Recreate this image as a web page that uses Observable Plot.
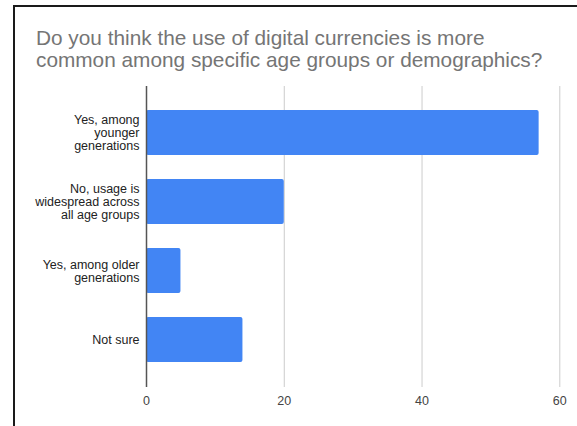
<!DOCTYPE html>
<html>
<head>
<meta charset="utf-8">
<script src="https://cdn.jsdelivr.net/npm/d3@7"></script>
<script src="https://cdn.jsdelivr.net/npm/@observablehq/plot@0.6"></script>
<style>
  html, body { margin: 0; padding: 0; background: #fff; }
  body { width: 577px; height: 426px; position: relative; overflow: hidden; font-family: Arial, "Liberation Sans", sans-serif; }
  #frame { position: absolute; left: 13px; top: 5px; width: 564px; height: 421px; border-left: 2px solid #1a1a1a; border-top: 2px solid #1a1a1a; box-sizing: border-box; }
  #title { position: absolute; left: 36px; top: 27px; font-size: 20.8px; line-height: 21.5px; color: #757575; white-space: nowrap; }
  #chart { position: absolute; left: 0; top: 75px; }
</style>
</head>
<body>
<div id="frame"></div>
<div id="title">Do you think the use of digital currencies is more<br>common among specific age groups or demographics?</div>
<div id="chart"></div>
<script>
const categories = [
  "Yes, among younger generations",
  "No, usage is widespread across all age groups",
  "Yes, among older generations",
  "Not sure"
];
const tickLabels = [
  "Yes, among\nyounger\ngenerations",
  "No, usage is\nwidespread across\nall age groups",
  "Yes, among older\ngenerations",
  "Not sure"
];
const values = [57, 20, 5, 14];
const xTicks = [0, 20, 40, 60];

const data = categories.map((c, i) => ({category: c, value: values[i]}));
const labelOf = new Map(categories.map((c, i) => [c, tickLabels[i]]));

const chart = Plot.plot({
  width: 577,
  height: 351,
  marginLeft: 146,
  marginRight: 17.7,
  marginTop: 11,
  marginBottom: 39,
  style: {fontFamily: "Arial, 'Liberation Sans', sans-serif", fontSize: "12.5px", background: "transparent"},
  x: {domain: [0, 60]},
  y: {type: "band", domain: categories, padding: 0.345},
  marks: [
    Plot.gridX(xTicks, {stroke: "#cccccc", strokeOpacity: 1, strokeWidth: 1}),
    Plot.barX(data, {x: "value", y: "category", fill: "#4285f4", rx: 2}),
    Plot.ruleX([0], {stroke: "#555555", strokeWidth: 1.5}),
    Plot.axisX(xTicks, {tickSize: 0, tickPadding: 9, fontSize: 12.5, fill: "#444444", label: null}),
    Plot.axisY({tickSize: 0, tickPadding: 7, fontSize: 12.5, fill: "#222222", lineHeight: 1.05, label: null, tickFormat: d => labelOf.get(d)})
  ]
});
document.getElementById("chart").appendChild(chart);
</script>
</body>
</html>
